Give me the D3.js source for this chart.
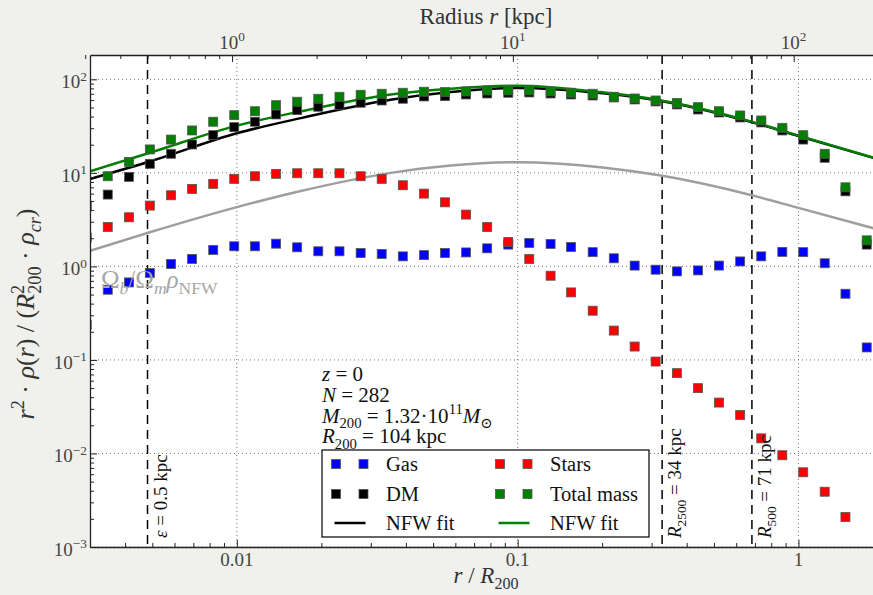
<!DOCTYPE html>
<html>
<head>
<meta charset="utf-8">
<script src="https://cdn.jsdelivr.net/npm/d3@7/dist/d3.min.js"></script>
<style>
body { margin: 0; background: #f0f0ec; }
svg { display: block; font-family: "Liberation Serif", "DejaVu Serif", serif; }
</style>
</head>
<body>
<div id="chart"></div>
<script>
/* Data */
var radius = [0.00292, 0.00347, 0.00413, 0.00490, 0.00583, 0.00693, 0.00824, 0.00979, 0.0116, 0.0138,
  0.0164, 0.0195, 0.0232, 0.0276, 0.0328, 0.0390, 0.0464, 0.0551, 0.0655, 0.0779,
  0.0926, 0.110, 0.131, 0.155, 0.185, 0.220, 0.261, 0.310, 0.369, 0.439,
  0.521, 0.620, 0.737, 0.876, 1.04, 1.24, 1.47, 1.75];
var gas = [0.238, 0.563, 0.674, 0.850, 1.06, 1.20, 1.50, 1.64, 1.64, 1.75,
  1.60, 1.45, 1.45, 1.39, 1.36, 1.28, 1.32, 1.39, 1.41, 1.56,
  1.71, 1.78, 1.74, 1.61, 1.42, 1.22, 1.02, 0.922, 0.884, 0.906,
  1.02, 1.13, 1.28, 1.43, 1.42, 1.08, 0.510, 0.136];
var stars = [2.03, 2.64, 3.35, 4.47, 5.76, 6.74, 7.63, 8.63, 9.20, 9.76,
  9.90, 9.90, 9.90, 9.20, 8.63, 7.37, 6.00, 4.84, 3.58, 2.64,
  1.82, 1.20, 0.795, 0.527, 0.336, 0.206, 0.139, 0.0961, 0.0722, 0.0499,
  0.0350, 0.0258, 0.0145, 0.00957, 0.00629, 0.00390, 0.00209, null];
var dm = [4.47, 5.86, 9.06, 12.5, 16.0, 20.1, 25.3, 30.8, 35.2, 42.1,
  46.8, 50.9, 52.9, 56.2, 59.4, 62.0, 65.6, 66.1, 68.9, 70.6,
  71.9, 72.4, 70.6, 68.9, 67.2, 64.0, 60.9, 58.0, 53.9, 47.6,
  44.2, 39.1, 34.6, 28.4, 22.7, 14.5, 6.35, 1.71];
var total = [null, 9.20, 13.1, 17.8, 22.7, 28.4, 35.2, 41.4, 45.6, 52.9,
  57.6, 62.0, 65.1, 68.4, 70.1, 71.9, 73.7, 73.0, 74.2, 76.1,
  76.1, 76.1, 74.2, 71.9, 70.1, 65.1, 62.4, 59.4, 55.9, 50.4,
  45.6, 41.1, 36.3, 30.3, 25.3, 16.0, 7.01, 1.90];

// fitted curves
var fitRadius = [0.00300, 0.00493, 0.0100, 0.0169, 0.0353, 0.0578, 0.100, 0.197, 0.324, 0.676, 1.00, 2.00];
var fitTotal = [10.4, 16.5, 32.0, 45.5, 68.9, 79.5, 85.5, 73.0, 59.5, 35.5, 25.0, 13.6];
var fitDM = [8.6, 13.3, 26.5, 38.5, 60.5, 73.0, 81.0, 71.5, 58.8, 35.1, 24.8, 13.5];
var fitBaryon = [1.47, 2.33, 4.30, 6.4, 10.0, 12.0, 13.0, 11.5, 9.35, 5.8, 4.22, 2.40];

var xTicks = [0.01, 0.1, 1];
var xTickLabels = ["0.01", "0.1", "1"];
var yTicks = [1e-3, 1e-2, 1e-1, 1, 10, 100];
var yTickExp = ["\u22123", "\u22122", "\u22121", "0", "1", "2"];
var topTicks = [1, 10, 100];
var topTickExp = ["0", "1", "2"];
var r200 = 104;
var vlineKpc = [0.5, 34, 71];

var width = 873, height = 595;
var plotLeft = 90, plotRight = 883, plotTop = 55, plotBottom = 547;

var x = d3.scaleLog().domain([0.003, 2]).range([plotLeft, plotRight]);
var y = d3.scaleLog().domain([1e-3, 182]).range([plotBottom, plotTop]);

/* helper for text with italics, sub- and superscripts */
function rich(sel, parts, size) {
  var shift = 0;
  parts.forEach(function(p) {
    var flags = p[1] || "";
    var s = 0, fs = size;
    if (flags.indexOf("sup") >= 0) { s = -0.4 * size; fs = size * 0.7; }
    if (flags.indexOf("sub") >= 0) { s = 0.25 * size; fs = size * 0.7; }
    var t = sel.append("tspan").text(p[0])
      .attr("dy", s - shift)
      .style("font-size", fs + "px");
    if (flags.indexOf("i") >= 0) t.style("font-style", "italic");
    if (p[2]) t.attr("dx", p[2]);
    shift = s;
  });
  return sel;
}

var svg = d3.select("#chart").append("svg")
  .attr("width", width)
  .attr("height", height);

svg.append("defs").append("clipPath").attr("id", "plotclip")
  .append("rect")
  .attr("x", plotLeft).attr("y", plotTop)
  .attr("width", plotRight - plotLeft).attr("height", plotBottom - plotTop);

svg.append("rect")
  .attr("x", plotLeft).attr("y", plotTop)
  .attr("width", plotRight - plotLeft).attr("height", plotBottom - plotTop)
  .attr("fill", "#fff");

/* Grid */
var grid = svg.append("g").attr("stroke", "#777").attr("stroke-width", 1).attr("stroke-dasharray", "1,3");
grid.selectAll(".gx").data(xTicks).enter().append("line")
  .attr("x1", d => x(d)).attr("x2", d => x(d))
  .attr("y1", plotTop).attr("y2", plotBottom);
grid.selectAll(".gy").data(yTicks).enter().append("line")
  .attr("x1", plotLeft).attr("x2", plotRight)
  .attr("y1", d => y(d)).attr("y2", d => y(d));

/* Vertical dashed lines: softening, R2500, R500 */
svg.append("g").selectAll("line").data(vlineKpc).enter().append("line")
  .attr("x1", d => x(d / r200)).attr("x2", d => x(d / r200))
  .attr("y1", plotTop).attr("y2", plotBottom)
  .attr("stroke", "#000").attr("stroke-width", 1.5)
  .attr("stroke-dasharray", "9,6");

var plot = svg.append("g").attr("clip-path", "url(#plotclip)");

/* Fit lines */
var line = d3.line()
  .defined(d => d[1] != null)
  .x(d => x(d[0]))
  .y(d => y(d[1]))
  .curve(d3.curveMonotoneX);

[[fitBaryon, "#9e9e9e"], [fitDM, "#000"], [fitTotal, "#008000"]].forEach(function(f) {
  plot.append("path")
    .attr("d", line(fitRadius.map((r, i) => [r, f[0][i]])))
    .attr("fill", "none")
    .attr("stroke", f[1])
    .attr("stroke-width", 2.5);
});

/* Square markers */
var series = [
  { values: gas, color: "#0000ff" },
  { values: stars, color: "#ff0000" },
  { values: dm, color: "#000000" },
  { values: total, color: "#008000" }
];
var ms = 9;
series.forEach(function(s) {
  plot.append("g").selectAll("rect")
    .data(radius.map((r, i) => [r, s.values[i]]).filter(d => d[1] != null))
    .enter().append("rect")
    .attr("x", d => x(d[0]) - ms / 2)
    .attr("y", d => y(d[1]) - ms / 2)
    .attr("width", ms).attr("height", ms)
    .attr("fill", s.color)
    .attr("stroke", "#555")
    .attr("stroke-width", 0.8);
});

/* Axes */
function minorDecades(lo, hi, from, to) {
  var out = [];
  for (var e = lo; e <= hi; e++) {
    for (var m = 2; m <= 9; m++) {
      var v = m * Math.pow(10, e);
      if (v > from && v < to) out.push(v);
    }
  }
  return out;
}
var axisColor = "#222";

svg.append("g").attr("transform", `translate(0, ${plotBottom})`)
  .call(d3.axisBottom(x).tickValues(xTicks).tickFormat("").tickSize(-7).tickSizeOuter(0))
  .call(g => g.selectAll("line").attr("stroke", axisColor))
  .call(g => g.select(".domain").attr("stroke", axisColor).attr("stroke-width", 1.3));
svg.append("g").attr("transform", `translate(0, ${plotBottom})`)
  .call(d3.axisBottom(x).tickValues(minorDecades(-3, 0, 0.003, 1.99)).tickFormat("").tickSize(-4).tickSizeOuter(0))
  .call(g => g.selectAll("line").attr("stroke", axisColor))
  .call(g => g.select(".domain").remove());

svg.append("g").attr("transform", `translate(0, ${plotTop})`)
  .call(d3.axisTop(x).tickValues(topTicks.map(r => r / r200)).tickFormat("").tickSize(-7).tickSizeOuter(0))
  .call(g => g.selectAll("line").attr("stroke", axisColor))
  .call(g => g.select(".domain").attr("stroke", axisColor).attr("stroke-width", 1.3));
svg.append("g").attr("transform", `translate(0, ${plotTop})`)
  .call(d3.axisTop(x).tickValues(minorDecades(-1, 2, 0.3, 208).map(r => r / r200)).tickFormat("").tickSize(-4).tickSizeOuter(0))
  .call(g => g.selectAll("line").attr("stroke", axisColor))
  .call(g => g.select(".domain").remove());

svg.append("g").attr("transform", `translate(${plotLeft}, 0)`)
  .call(d3.axisLeft(y).tickValues(yTicks).tickFormat("").tickSize(-7).tickSizeOuter(0))
  .call(g => g.selectAll("line").attr("stroke", axisColor))
  .call(g => g.select(".domain").attr("stroke", axisColor).attr("stroke-width", 1.3));
svg.append("g").attr("transform", `translate(${plotLeft}, 0)`)
  .call(d3.axisLeft(y).tickValues(minorDecades(-3, 2, 0.001, 182)).tickFormat("").tickSize(-4).tickSizeOuter(0))
  .call(g => g.selectAll("line").attr("stroke", axisColor))
  .call(g => g.select(".domain").remove());

/* Tick labels */
var tickColor = "#444", tickSize = 19;
svg.append("g").selectAll("text").data(xTicks).enter().append("text")
  .attr("x", d => x(d)).attr("y", 566)
  .attr("text-anchor", "middle")
  .attr("fill", tickColor).style("font-size", tickSize + "px")
  .text((d, i) => xTickLabels[i]);

yTicks.forEach(function(v, i) {
  var t = svg.append("text")
    .attr("x", 87).attr("y", y(v) + 9)
    .attr("text-anchor", "end")
    .attr("fill", tickColor);
  rich(t, [["10"], [yTickExp[i], "sup"]], tickSize);
});

topTicks.forEach(function(r, i) {
  var t = svg.append("text")
    .attr("x", x(r / r200)).attr("y", 49)
    .attr("text-anchor", "middle")
    .attr("fill", tickColor);
  rich(t, [["10"], [topTickExp[i], "sup"]], tickSize);
});

/* Axis labels */
var labelColor = "#333", labelSize = 23;
rich(svg.append("text").attr("x", 486).attr("y", 24).attr("text-anchor", "middle").attr("fill", labelColor),
  [["Radius "], ["r", "i"], [" [kpc]"]], labelSize);
rich(svg.append("text").attr("x", 486).attr("y", 583).attr("text-anchor", "middle").attr("fill", labelColor),
  [["r", "i"], [" / "], ["R", "i"], ["200", "sub"]], labelSize);
rich(svg.append("text").attr("transform", "translate(34, 314) rotate(-90)").attr("text-anchor", "middle").attr("fill", labelColor),
  [["r", "i"], ["2", "sup"], [" \u00b7 "], ["\u03c1", "i"], ["("], ["r", "i"], [") / ("], ["R", "i"], ["2", "sup"],
   ["200", "sub", -9], [" \u00b7 "], ["\u03c1", "i"], ["cr", "sub i"], [")"]], 26);

/* Labels on the dashed lines */
var vlabels = [
  [["\u03b5", "i"], [" = 0.5 kpc"]],
  [["R", "i"], ["2500", "sub"], [" = 34 kpc"]],
  [["R", "i"], ["500", "sub"], [" = 71 kpc"]]
];
vlineKpc.forEach(function(r, i) {
  var t = svg.append("text")
    .attr("transform", `translate(${x(r / r200) + 19}, 538) rotate(-90)`)
    .attr("fill", "#111");
  rich(t, vlabels[i], 19);
});

/* Baryon curve label */
rich(svg.append("text").attr("x", 101).attr("y", 288).attr("fill", "#a6a6a6"),
  [["\u03a9"], ["b", "sub i"], ["/\u03a9"], ["m", "sub i"], ["\u03c1", "i"], ["NFW", "sub"]], 25);

/* Halo properties */
var info = [
  [["z", "i"], [" = 0"]],
  [["N", "i"], [" = 282"]],
  [["M", "i"], ["200", "sub"], [" = 1.32\u00b710"], ["11", "sup"], ["M", "i"], ["\u2299", "sub"]],
  [["R", "i"], ["200", "sub"], [" = 104 kpc"]]
];
info.forEach(function(parts, i) {
  var t = svg.append("text")
    .attr("x", 322).attr("y", 381 + i * 20.8)
    .attr("fill", "#111");
  rich(t, parts, 21);
});

/* Legend */
var legendItems = [
  { label: "Gas", color: "#0000ff", kind: "marker", col: 0, row: 0 },
  { label: "Stars", color: "#ff0000", kind: "marker", col: 1, row: 0 },
  { label: "DM", color: "#000000", kind: "marker", col: 0, row: 1 },
  { label: "Total mass", color: "#008000", kind: "marker", col: 1, row: 1 },
  { label: "NFW fit", color: "#000000", kind: "line", col: 0, row: 2 },
  { label: "NFW fit", color: "#008000", kind: "line", col: 1, row: 2 }
];
var legend = svg.append("g");
legend.append("rect")
  .attr("x", 322).attr("y", 450).attr("width", 327).attr("height", 87)
  .attr("fill", "#fff").attr("stroke", "#000").attr("stroke-width", 1.2);
var colX = [336, 500], rowY = [464, 494, 523];
legendItems.forEach(function(d) {
  var x0 = colX[d.col], yc = rowY[d.row];
  if (d.kind == "marker") {
    [x0, x0 + 27.5].forEach(function(cx) {
      legend.append("rect")
        .attr("x", cx - 4.5).attr("y", yc - 4.5)
        .attr("width", 9).attr("height", 9)
        .attr("fill", d.color).attr("stroke", "#555").attr("stroke-width", 0.8);
    });
  } else {
    legend.append("line")
      .attr("x1", x0 - 1.5).attr("x2", x0 + 29.5)
      .attr("y1", yc).attr("y2", yc)
      .attr("stroke", d.color).attr("stroke-width", 2.5);
  }
  legend.append("text")
    .attr("x", x0 + 50).attr("y", yc + 7)
    .attr("fill", "#111")
    .style("font-size", "20.5px")
    .text(d.label);
});
</script>
</body>
</html>
